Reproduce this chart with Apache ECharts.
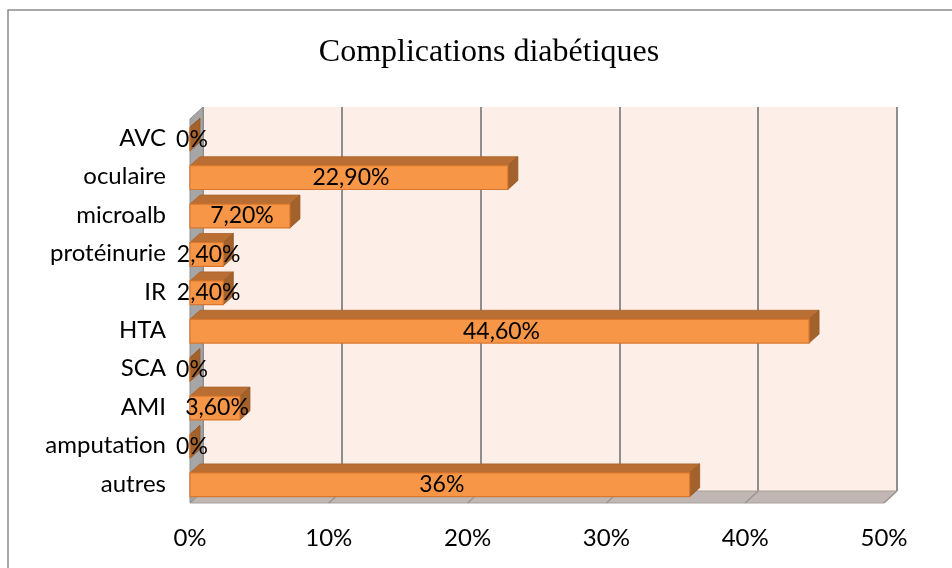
<!DOCTYPE html>
<html><head><meta charset="utf-8">
<script src="https://cdn.jsdelivr.net/npm/echarts@6/dist/echarts.min.js"></script>
<style>html,body{margin:0;padding:0;background:#fff}#c{width:952px;height:568px}</style>
</head><body><div id="c"></div>
<script>
// bottom-to-top order
var categories = ['autres','amputation','AMI','SCA','HTA','IR','protéinurie','microalb','oculaire','AVC'];
var values = [36, 0, 3.6, 0, 44.6, 2.4, 2.4, 7.2, 22.9, 0];
var valueLabels = ['36%','0%','3,60%','0%','44,60%','2,40%','2,40%','7,20%','22,90%','0%'];
var tickValues = [0, 10, 20, 30, 40, 50];

var DX = 10, DY = -9;   // bar depth offset
var WX = 13, WY = -12;  // wall depth offset
var FONT = 'Lato, "Open Sans", sans-serif';

var chart = echarts.init(document.getElementById('c'), null, {renderer: 'canvas'});

function barItem(params, api) {
  var v = api.value(0), ci = api.value(1);
  var p0 = api.coord([0, ci]);
  var p1 = api.coord([v, ci]);
  var h = api.size([0, 1])[1] * 0.62;
  var x0 = p0[0], x1 = p1[0], yT = p0[1] - h / 2 + 1, yB = p0[1] + h / 2 + 1;
  var children = [
    {type: 'polygon', shape: {points: [[x0, yT], [x0 + DX, yT + DY], [x1 + DX, yT + DY], [x1, yT]]},
     style: {fill: '#B96F33', stroke: '#A9622A', lineWidth: 0.8}},
    {type: 'polygon', shape: {points: [[x1, yT], [x1 + DX, yT + DY], [x1 + DX, yB + DY], [x1, yB]]},
     style: {fill: '#A3612B', stroke: '#955725', lineWidth: 0.8}},
    {type: 'rect', shape: {x: x0, y: yT, width: Math.max(x1 - x0, 0), height: h},
     style: {fill: '#F79646', stroke: '#D9772F', lineWidth: 1.2}},
    {type: 'text', x: (x0 + x1) / 2 + 2, y: p0[1] + 1,
     style: {text: valueLabels[params.dataIndex], fill: '#000', font: '23px ' + FONT, align: 'center', verticalAlign: 'middle'}, z2: 10}
  ];
  return {type: 'group', children: children};
}

function frameItem(params, api) {
  var cs = params.coordSys;
  var v = api.value(0);
  var bottom = cs.y + cs.height, top = cs.y;
  var p = api.coord([v, 0]);
  var children = [];
  if (params.dataIndex === 0) {
    var xL = cs.x, xR = cs.x + cs.width;
    children.push({type: 'polygon', shape: {points: [[xL, bottom], [xL + WX, bottom + WY], [xR + WX, bottom + WY], [xR, bottom]]},
      style: {fill: '#C0B6B3', stroke: '#A8A09D', lineWidth: 1}});
    children.push({type: 'polygon', shape: {points: [[xL, top], [xL + WX, top + WY], [xL + WX, bottom + WY], [xL, bottom]]},
      style: {fill: '#A6A6A6', stroke: '#8C8C8C', lineWidth: 1}});
  }
  if (v > 0) {
    children.push({type: 'line', shape: {x1: p[0], y1: bottom, x2: p[0] + WX, y2: bottom + WY},
      style: {stroke: '#9A9290', lineWidth: 1.2}});
  }
  return {type: 'group', children: children};
}

var barData = values.map(function (v, i) { return [v, i]; });

chart.setOption({
  backgroundColor: '#fff',
  animation: false,
  title: {
    text: 'Complications diabétiques', left: 484, top: 32, textAlign: 'center',
    textStyle: {fontFamily: '"Liberation Serif", "DejaVu Serif", serif', fontWeight: 'normal', fontSize: 32, color: '#000'}
  },
  graphic: [{
    type: 'rect', shape: {x: 8, y: 10, width: 1000, height: 600}, silent: true, z: -10,
    style: {fill: 'none', stroke: '#8C8C8C', lineWidth: 1.5}
  }],
  grid: [
    {left: 190, right: 68, top: 119, bottom: 65, containLabel: false},
    {left: 190 + WX, right: 68 - WX, top: 119 + WY, bottom: 65 - WY, show: true, backgroundColor: '#FDEEE7', borderWidth: 0, z: -5}
  ],
  xAxis: [
    {gridIndex: 0, type: 'value', min: 0, max: 50, interval: 10,
     axisLine: {show: false}, axisTick: {show: false}, splitLine: {show: false},
     axisLabel: {formatter: '{value}%', margin: 23, color: '#000', fontSize: 24, fontFamily: FONT}},
    {gridIndex: 1, type: 'value', min: 0, max: 50, interval: 10,
     axisLine: {show: false}, axisTick: {show: false}, axisLabel: {show: false},
     splitLine: {show: true, lineStyle: {color: '#8E8E8E', width: 2}}}
  ],
  yAxis: [
    {gridIndex: 0, type: 'category', data: categories,
     axisLine: {show: false}, axisTick: {show: false},
     axisLabel: {margin: 24, color: '#000', fontSize: 24, fontFamily: FONT}},
    {gridIndex: 1, type: 'category', data: categories, show: false}
  ],
  series: [
    {type: 'custom', name: 'frame', xAxisIndex: 0, yAxisIndex: 0, data: tickValues.map(function (t) { return [t, 0]; }),
     renderItem: frameItem, z: 1, silent: true},
    {type: 'custom', name: 'Complications', xAxisIndex: 0, yAxisIndex: 0, data: barData,
     renderItem: barItem, z: 5, encode: {x: 0, y: 1}}
  ]
});
</script></body></html>
